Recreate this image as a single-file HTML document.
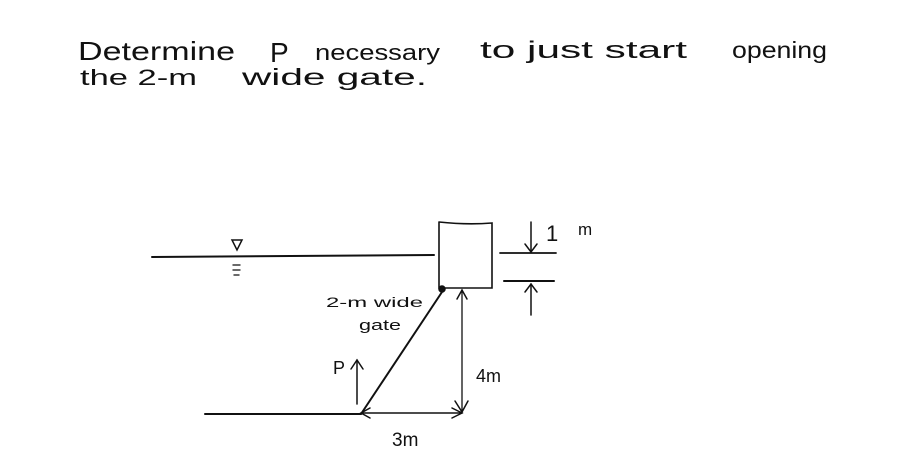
<!DOCTYPE html>
<html><head><meta charset="utf-8"><style>
html,body{margin:0;padding:0;background:#fff;}
svg{display:block;}
text{font-family:"Liberation Sans",sans-serif;fill:#111;}
</style></head><body>
<svg width="904" height="451" viewBox="0 0 904 451" xmlns="http://www.w3.org/2000/svg">
<g stroke="#111" fill="none" stroke-width="1.5" stroke-linecap="round">
<text x="78" y="60" font-size="26" textLength="157" lengthAdjust="spacingAndGlyphs" stroke="none">Determine</text>
<text x="270" y="62" font-size="28" stroke="none">P</text>
<text x="315" y="60" font-size="22" textLength="125" lengthAdjust="spacingAndGlyphs" stroke="none">necessary</text>
<text x="480" y="58" font-size="24" textLength="207" lengthAdjust="spacingAndGlyphs" stroke="none">to just start</text>
<text x="732" y="58" font-size="23" textLength="95" lengthAdjust="spacingAndGlyphs" stroke="none">opening</text>
<text x="80" y="85" font-size="22" textLength="117" lengthAdjust="spacingAndGlyphs" stroke="none">the 2-m</text>
<text x="242" y="85" font-size="23" textLength="185" lengthAdjust="spacingAndGlyphs" stroke="none">wide gate.</text>
<!-- water line -->
<line x1="152" y1="257" x2="434" y2="255" stroke-width="2"/>
<path d="M232 240 L242 240 L237 250 Z" stroke-width="1.5"/>
<line x1="233" y1="265" x2="240" y2="265" stroke-width="1.3"/>
<line x1="233" y1="270" x2="240" y2="270" stroke-width="1.3"/>
<line x1="234" y1="275" x2="239" y2="275" stroke-width="1.3"/>
<!-- box -->
<path d="M439 222 L439 288 L492 288 L492 223 Q467 225 439 222" stroke-width="1.6"/>
<circle cx="442" cy="289" r="3" fill="#111"/>
<!-- right lines -->
<line x1="500" y1="253" x2="556" y2="253" stroke-width="1.8"/>
<line x1="504" y1="281" x2="554" y2="281" stroke-width="2"/>
<line x1="531" y1="222" x2="531" y2="252"/>
<path d="M525 244 L531 252 L537 244"/>
<line x1="531" y1="284" x2="531" y2="315"/>
<path d="M525 292 L531 284 L537 292"/>
<text x="546" y="241" font-size="22" stroke="none">1</text>
<text x="578" y="235" font-size="17" stroke="none">m</text>
<!-- gate -->
<line x1="442" y1="292" x2="361" y2="414" stroke-width="2"/>
<line x1="205" y1="414" x2="361" y2="414" stroke-width="2"/>
<!-- dimension arrows -->
<line x1="462" y1="290" x2="462" y2="412" stroke-width="1.3"/>
<path d="M457 299 L462 290 L467 299"/>
<path d="M455 401 L462 412 L468 401"/>
<line x1="361" y1="413" x2="462" y2="413" stroke-width="1.5"/>
<path d="M370 408 L361 413 L370 418"/>
<path d="M452 408 L462 413 L452 418"/>
<!-- P arrow -->
<line x1="357" y1="404" x2="357" y2="360"/>
<path d="M351 369 L357 360 L363 369"/>
<text x="333" y="374" font-size="18" stroke="none">P</text>
<text x="476" y="382" font-size="18" stroke="none">4m</text>
<text x="392" y="446" font-size="19" stroke="none">3m</text>
<text x="326" y="307" font-size="14" stroke="none" textLength="97" lengthAdjust="spacingAndGlyphs">2-m wide</text>
<text x="359" y="330" font-size="15" stroke="none" textLength="42" lengthAdjust="spacingAndGlyphs">gate</text>
</g>
</svg>
</body></html>
